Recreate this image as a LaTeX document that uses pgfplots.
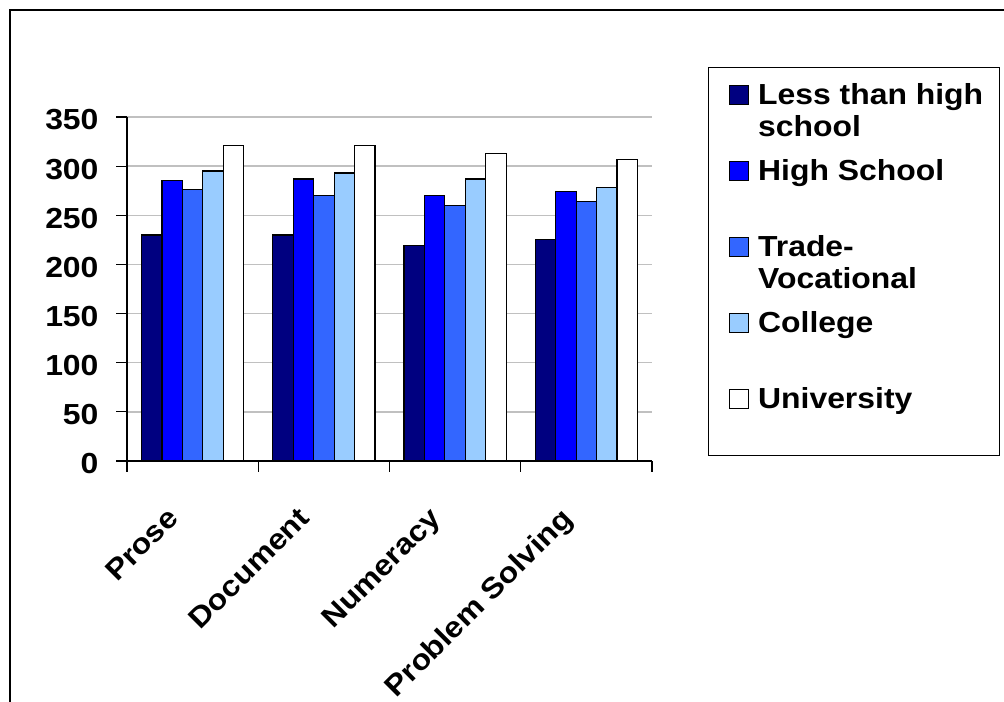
\documentclass[border=0pt]{standalone}
\usepackage{pgfplots}
\pgfplotsset{compat=1.18}
\usepackage{fontspec}
\setmainfont[FakeStretch=1.1]{Liberation Sans}
\definecolor{c1}{HTML}{000080}
\definecolor{c2}{HTML}{0000FF}
\definecolor{c3}{HTML}{3366FF}
\definecolor{c4}{HTML}{99CCFF}
\definecolor{c5}{HTML}{FFFFFF}
\definecolor{gridc}{HTML}{C0C0C0}
\begin{document}
\begin{tikzpicture}[x=1bp,y=1bp]
\path[use as bounding box] (0,0) rectangle (1004,702);
\draw[line width=1.3bp] (10,0) -- (10,692) -- (1004,692);
\begin{axis}[
  at={(127bp,241bp)}, anchor=south west,
  scale only axis, width=525bp, height=344bp,
  xmin=-0.5, xmax=3.5, ymin=0, ymax=350,
  axis x line*=bottom, axis y line*=left,
  axis line style={line width=1.2bp, black},
  ybar=0pt, bar width=0.156,
  ytick={0,50,...,350},
  ymajorgrids, grid style={color=gridc, line width=1.3bp},
  tick align=outside,
  major tick length=11bp,
  tick style={black, line width=1.2bp},
  xtick={-0.5,0.5,1.5,2.5,3.5},
  xticklabels={,,,,},
  extra x ticks={0,1,2,3},
  extra x tick labels={Prose,Document,Numeracy,Problem Solving},
  extra x tick style={major tick length=0pt},
  tick label style={font=\fontsize{29bp}{32bp}\selectfont\bfseries},
  /pgf/number format/assume math mode=true,
  yticklabel style={xshift=-14bp, yshift=-3bp},
  xticklabel style={xshift=-27bp, yshift=-40bp, rotate=45, anchor=north east},
  legend cell align=left,
  legend image code/.code={\path[draw=none,fill=none] (0bp,-33bp) rectangle (0bp,22bp); \draw[#1,line width=1bp] (10bp,0bp) rectangle (29bp,19bp);},
  legend style={at={(1.1067,1.1453)}, anchor=north west, draw=black, line width=1.2bp,
    inner xsep=11bp, inner ysep=14bp, row sep=20bp, column sep=7bp,
    font=\fontsize{29bp}{32bp}\selectfont\bfseries,
    cells={anchor=base west, inner sep=0pt}},
]
\addplot[fill=c1, draw=black, line width=1.2bp] coordinates {(0,230) (1,230) (2,219) (3,225)};
\addlegendentry{\parbox[t]{228bp}{\raggedright Less than high\\school}}
\addplot[fill=c2, draw=black, line width=1.2bp] coordinates {(0,285) (1,287) (2,270) (3,274)};
\addlegendentry{\parbox[t]{228bp}{\raggedright High School}}
\addplot[fill=c3, draw=black, line width=1.2bp] coordinates {(0,276) (1,270) (2,260) (3,264)};
\addlegendentry{\parbox[t]{228bp}{\raggedright Trade-\\Vocational}}
\addplot[fill=c4, draw=black, line width=1.2bp] coordinates {(0,295) (1,293) (2,287) (3,278)};
\addlegendentry{\parbox[t]{228bp}{\raggedright College}}
\addplot[fill=c5, draw=black, line width=1.2bp] coordinates {(0,321) (1,321) (2,313) (3,307)};
\addlegendentry{\parbox[t]{228bp}{\raggedright University}}
\end{axis}
\end{tikzpicture}
\end{document}
